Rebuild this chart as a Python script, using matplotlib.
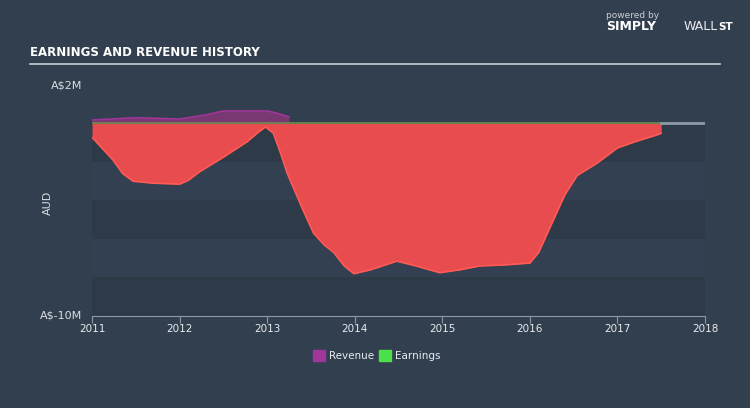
import matplotlib.pyplot as plt

BG = "#323f4f"

rev_x = [2011.0, 2011.5, 2012.0, 2012.3, 2012.5, 2013.0, 2013.1, 2013.25]
rev_y = [0.18, 0.3, 0.23, 0.45, 0.65, 0.65, 0.55, 0.34]

earn_x = [2011.0, 2011.24, 2011.35, 2011.47, 2011.7, 2012.0, 2012.1, 2012.23, 2012.5, 2012.77,
          2012.9, 2012.98, 2013.07, 2013.15, 2013.23, 2013.4, 2013.53, 2013.65, 2013.76,
          2013.88, 2013.99, 2014.18, 2014.48, 2014.7, 2014.97, 2015.2, 2015.43, 2015.7,
          2016.0, 2016.1, 2016.23, 2016.4, 2016.54, 2016.77, 2017.0, 2017.2, 2017.48, 2017.5]
earn_y = [-0.72, -1.9, -2.6, -3.0, -3.1, -3.15, -2.95, -2.5, -1.75, -0.95,
          -0.45, -0.18, -0.5, -1.5, -2.6, -4.4, -5.7, -6.3, -6.7,
          -7.4, -7.8, -7.6, -7.15, -7.4, -7.75, -7.6, -7.4, -7.35,
          -7.25, -6.7, -5.4, -3.7, -2.7, -2.05, -1.27, -0.95, -0.55, -0.5]

years = [2011, 2012, 2013, 2014, 2015, 2016, 2017, 2018]

fig = plt.figure(figsize=(7.5, 4.08), dpi=100, facecolor=BG)
ax = fig.add_axes([0.1227, 0.2255, 0.8173, 0.5662])
ax.set_facecolor(BG)
ax.set_xlim(2011, 2018)
ax.set_ylim(-10, 2)

# alternating bands below zero
for i, lo in enumerate([-2, -4, -6, -8, -10]):
    c = "#2e3a48" if i % 2 == 0 else "#334051"
    ax.axhspan(lo, lo + 2, color=c, lw=0, zorder=0)

ax.fill_between(rev_x, 0, rev_y, color="#7a3873", lw=0, zorder=2)
ax.plot(rev_x, rev_y, color="#a2359b", lw=1.2, zorder=3)
ax.fill_between(earn_x, 0, earn_y, color="#e84c4f", lw=0, zorder=2)
ax.plot(earn_x, earn_y, color="#ff5a55", lw=1.2, zorder=3)
ax.plot([2011, 2017.5], [0, 0], color="#6f8f4e", lw=1.2, zorder=4)
ax.plot([2017.5, 2018], [0, 0], color="#8e99a6", lw=2, zorder=4)

for s in ["top", "right", "left"]:
    ax.spines[s].set_visible(False)
ax.spines["bottom"].set_color("#8e99a6")
ax.set_xticks(years)
ax.set_xticklabels([str(y) for y in years])
ax.set_yticks([])
ax.tick_params(axis="x", colors="#8e99a6", labelcolor="#e8ecef", labelsize=7.5, length=5, pad=1)

fig.text(82 / 750, 1 - 85 / 408, "A$2M", color="#d9dee3", fontsize=8, ha="right", va="center")
fig.text(82 / 750, 1 - 316 / 408, "A$-10M", color="#d9dee3", fontsize=8, ha="right", va="center")
fig.text(48 / 750, 1 - 203 / 408, "AUD", color="#d9dee3", fontsize=8, rotation=90, ha="center", va="center")

fig.text(30 / 750, 1 - 53 / 408, "EARNINGS AND REVENUE HISTORY", color="white", fontsize=8.5,
         fontweight="bold", va="center")
fig.add_artist(plt.Line2D([30 / 750, 720 / 750], [1 - 64 / 408] * 2, color="#c8ced5", lw=1.2))

fig.text(606 / 750, 1 - 15 / 408, "powered by", color="#c8ced5", fontsize=6.5, va="center")
fig.text(606 / 750, 1 - 27 / 408, "SIMPLY", color="white", fontsize=9, fontweight="bold", va="center")
fig.text(684 / 750, 1 - 27 / 408, "WALL", color="#e8ecef", fontsize=9, va="center")
fig.text(718 / 750, 1 - 27 / 408, "ST", color="white", fontsize=7.5, fontweight="bold", va="center")

# legend
fig.patches.append(plt.Rectangle((313 / 750, 1 - 361 / 408), 12 / 750, 11 / 408,
                                 transform=fig.transFigure, color="#a0369a"))
fig.text(329 / 750, 1 - 356 / 408, "Revenue", color="#e8ecef", fontsize=7.5, va="center")
fig.patches.append(plt.Rectangle((379 / 750, 1 - 361 / 408), 12 / 750, 11 / 408,
                                 transform=fig.transFigure, color="#4ce04c"))
fig.text(395 / 750, 1 - 356 / 408, "Earnings", color="#e8ecef", fontsize=7.5, va="center")

fig.savefig("out.png", dpi=100, facecolor=BG)
